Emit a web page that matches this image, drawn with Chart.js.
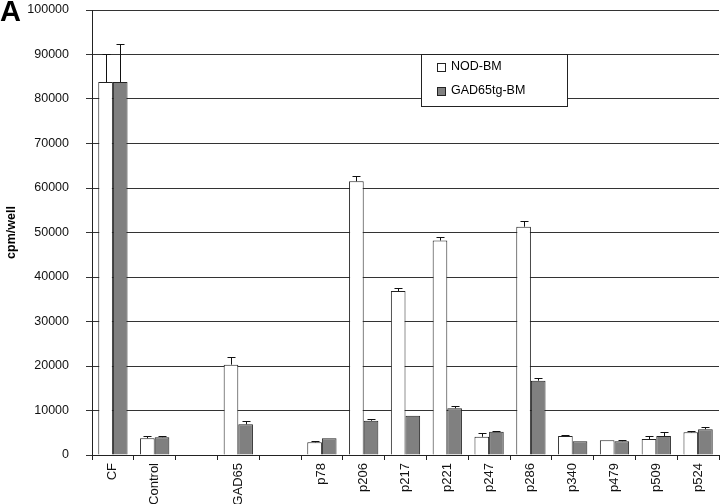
<!DOCTYPE html>
<html>
<head>
<meta charset="utf-8">
<script src="https://cdn.jsdelivr.net/npm/chart.js@4/dist/chart.umd.min.js"></script>
<style>
  html, body { margin: 0; padding: 0; background: #fff; }
  #wrap { position: relative; width: 720px; height: 504px; }
  #panel { position: absolute; left: 0px; top: -5px; font: bold 29px 'Liberation Sans', Arial, sans-serif; color: #000; }
</style>
</head>
<body>
<div id="wrap">
  <canvas id="main-chart" width="720" height="504"></canvas>
  <div id="panel">A</div>
</div>
<script>
// categories (empty strings are the gaps between groups)
const categories = ['CF', 'Control', '', 'GAD65', '', 'p78', 'p206', 'p217', 'p221', 'p247', 'p286', 'p340', 'p479', 'p509', 'p524'];

// cpm/well means and upper error amounts
const nodBM    = [83800, 3750, null, 20300, null, 2850, 61500, 36850, 48200, 4100, 51300, 4250, 3300, 3600, 5100];
const nodBMErr = [6400,  550,  null, 1800,  null, 250,  1300,  650,   900,   800,  1200,  300,  0,    750,  200];
const gadBM    = [83800, 4000, null, 6900,  null, 3750, 7700,  8800,  10500, 5250, 16700, 3100, 3100, 4250, 5800];
const gadBMErr = [8600,  350,  null, 700,   null, 0,    400,   0,     400,   250,   500,  0,    250,  850,  600];

const yTicks = [0, 10000, 20000, 30000, 40000, 50000, 60000, 70000, 80000, 90000, 100000];

const FONT = "'Liberation Sans', Arial, sans-serif";

// error bars drawn from the bar top upward, with a small cap
const errorBars = {
  id: 'errorBars',
  afterDatasetsDraw(chart) {
    const { ctx, scales: { y } } = chart;
    const errs = [nodBMErr, gadBMErr];
    ctx.save();
    ctx.strokeStyle = '#111';
    ctx.lineWidth = 1;
    chart.data.datasets.forEach((ds, di) => {
      const meta = chart.getDatasetMeta(di);
      meta.data.forEach((bar, i) => {
        const v = ds.data[i];
        const e = errs[di][i];
        if (v == null || !e) return;
        const x = Math.round(bar.x) + 0.5;
        const y0 = y.getPixelForValue(v);
        const y1 = Math.round(y.getPixelForValue(v + e)) + 0.5;
        ctx.beginPath();
        ctx.moveTo(x, y0);
        ctx.lineTo(x, y1);
        ctx.moveTo(x - 4, y1);
        ctx.lineTo(x + 4, y1);
        ctx.stroke();
      });
    });
    ctx.restore();
  }
};

// boxed legend sitting inside the plot area
const boxLegend = {
  id: 'boxLegend',
  afterDatasetsDraw(chart) {
    const { ctx } = chart;
    const left = 421.5, top = 54.5, w = 146, h = 52;
    ctx.save();
    ctx.fillStyle = '#fff';
    ctx.fillRect(left, top, w, h);
    ctx.strokeStyle = '#222';
    ctx.lineWidth = 1;
    ctx.strokeRect(left, top, w, h);
    ctx.font = '12.5px ' + FONT;
    ctx.textBaseline = 'middle';
    chart.data.datasets.forEach((ds, i) => {
      const cy = top + 12 + i * 24.5;
      ctx.fillStyle = ds.backgroundColor;
      ctx.fillRect(437.5, Math.round(cy) - 3.5, 8, 8);
      ctx.strokeStyle = '#222';
      ctx.strokeRect(437.5, Math.round(cy) - 3.5, 8, 8);
      ctx.fillStyle = '#000';
      ctx.fillText(ds.label, 451, cy);
    });
    ctx.restore();
  }
};

new Chart(document.getElementById('main-chart'), {
  type: 'bar',
  data: {
    labels: categories,
    datasets: [
      {
        label: 'NOD-BM',
        data: nodBM,
        backgroundColor: '#ffffff',
        borderColor: '#222',
        borderWidth: 1,
        borderSkipped: 'bottom',
      },
      {
        label: 'GAD65tg-BM',
        data: gadBM,
        backgroundColor: '#808080',
        borderColor: '#222',
        borderWidth: 1,
        borderSkipped: 'bottom',
      }
    ]
  },
  options: {
    responsive: false,
    animation: false,
    devicePixelRatio: 1,
    layout: { padding: { top: 0, right: 1, left: 0, bottom: 0 } },
    datasets: { bar: { categoryPercentage: 0.7, barPercentage: 1 } },
    plugins: {
      legend: { display: false },
      tooltip: { enabled: false }
    },
    scales: {
      x: {
        afterFit: (s) => { s.height = 49; },
        grid: { drawOnChartArea: false, tickLength: 5, color: '#222', offset: true },
        border: { color: '#222', width: 1 },
        ticks: {
          autoSkip: false,
          minRotation: 90,
          maxRotation: 90,
          padding: 3,
          color: '#111',
          font: { family: FONT, size: 13 }
        }
      },
      y: {
        min: 0,
        max: 100000,
        afterFit: (s) => { s.width = 92; s.paddingTop = 10; s.paddingBottom = 0; },
        afterBuildTicks: (s) => { s.ticks = yTicks.map(v => ({ value: v })); },
        grid: { color: '#333', tickLength: 6 },
        border: { color: '#222', width: 1 },
        title: {
          display: true,
          text: 'cpm/well',
          color: '#000',
          font: { family: FONT, size: 12.5, weight: 'bold' },
          padding: { top: 4, bottom: 0 }
        },
        ticks: {
          padding: 17,
          color: '#111',
          font: { family: FONT, size: 12.5 },
          callback: (v) => String(v)
        }
      }
    }
  },
  plugins: [errorBars, boxLegend]
});
</script>
</body>
</html>
